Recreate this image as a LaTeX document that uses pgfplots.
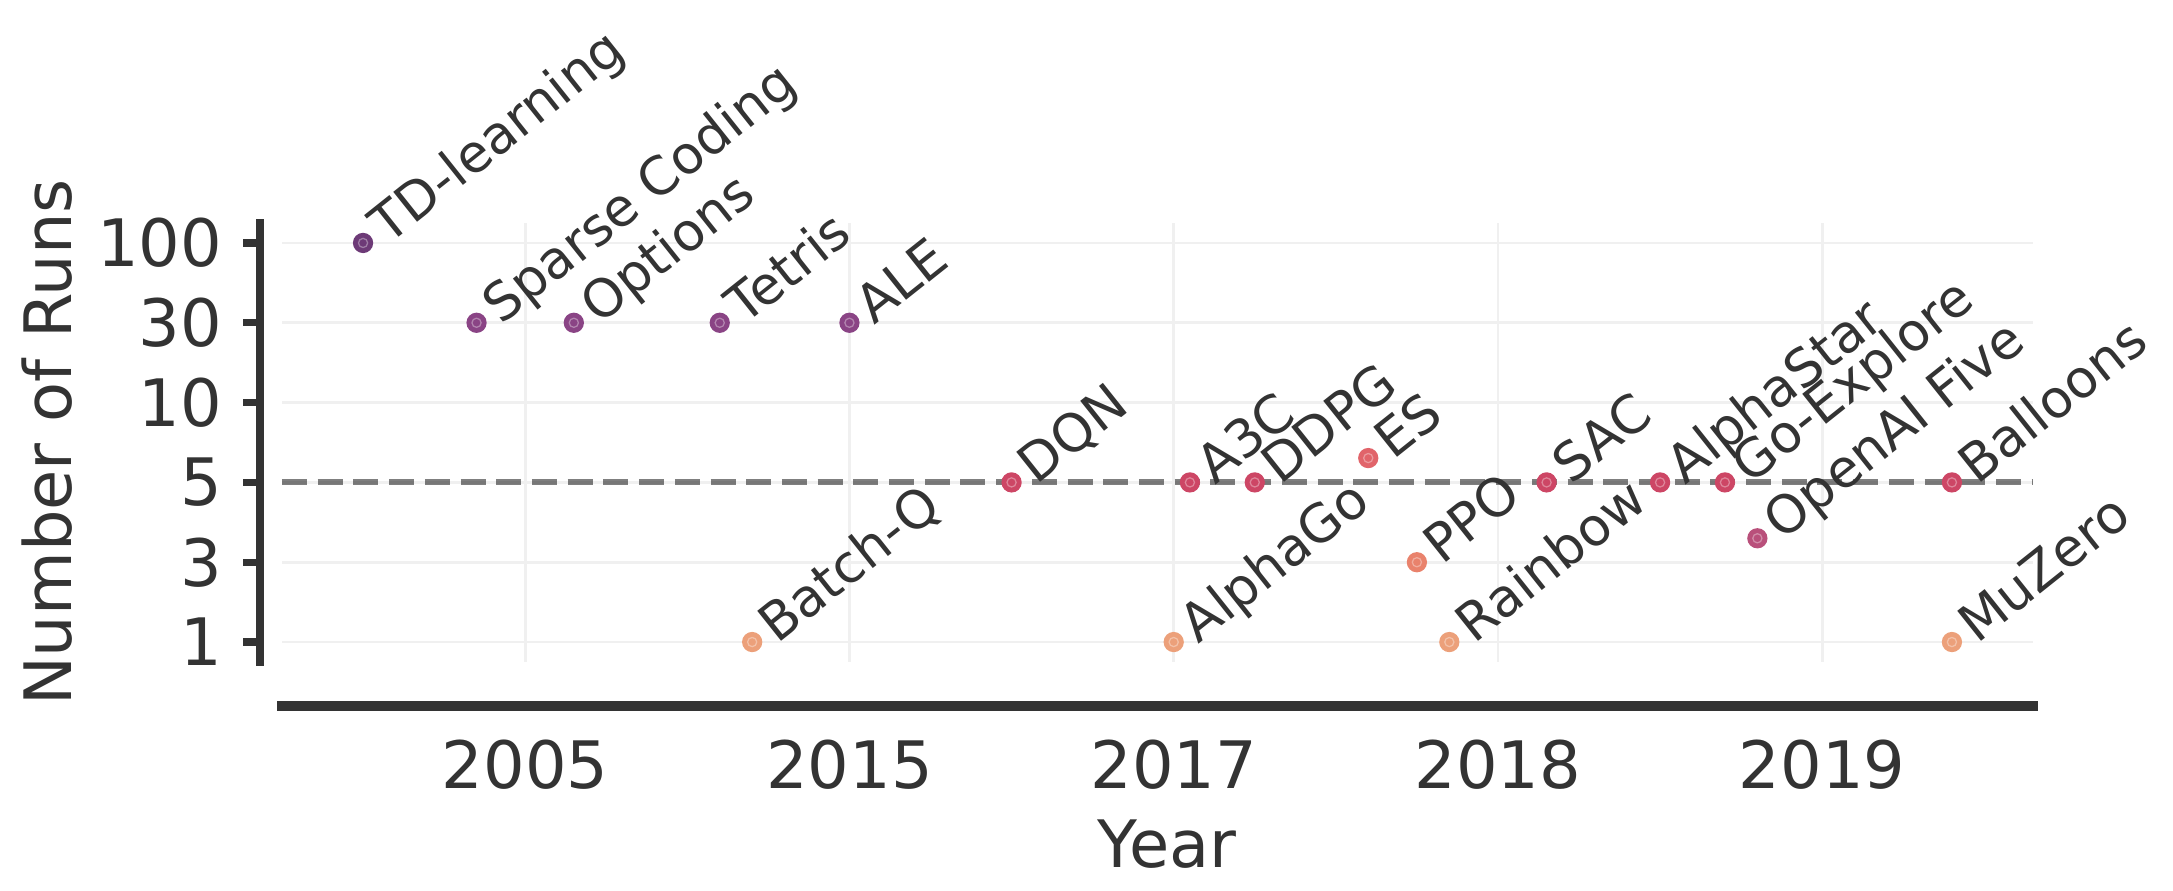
\documentclass[border=0pt]{standalone}
\usepackage{fontspec}
\setmainfont{DejaVu Sans}
\usepackage{pgfplots}
\pgfplotsset{compat=1.18}
\usepackage{pgfplotstable}

\definecolor{ink}{HTML}{333333}
\definecolor{gridc}{HTML}{F0F0F0}
\definecolor{cA}{HTML}{6D3A77}
\definecolor{cB}{HTML}{8A4485}
\definecolor{cC}{HTML}{CD4665}
\definecolor{cD}{HTML}{E1646A}
\definecolor{cE}{HTML}{E9826C}
\definecolor{cF}{HTML}{ECA07A}
\definecolor{cG}{HTML}{B9507B}

\newcommand\tickfont{\fontsize{15.7}{18}\selectfont}
\newcommand\annfont{\fontsize{12.6}{14}\selectfont}

% x: 2005=0, 2015=1, 2017=2, 2018=3, 2019=4
% y: 1=0, 3=1, 5=2, 10=3, 30=4, 100=5
% ci: colour index 0..6 (cA..cG)
\pgfplotstableread{
x      y      ci  label
-0.50  5      0   TD-learning
-0.15  4      1   {Sparse Coding}
 0.15  4      1   Options
 0.60  4      1   Tetris
 0.70  0      5   Batch-Q
 1.00  4      1   ALE
 1.50  2      2   DQN
 2.00  0      5   AlphaGo
 2.05  2      2   A3C
 2.25  2      2   DDPG
 2.60  2.305  3   ES
 2.75  1      4   PPO
 2.85  0      5   Rainbow
 3.15  2      2   SAC
 3.50  2      2   AlphaStar
 3.70  2      2   Go-Explore
 3.80  1.30   6   {OpenAI Five}
 4.40  2      2   Balloons
 4.40  0      5   MuZero
}\runs

\begin{document}
\begin{tikzpicture}
\path[use as bounding box] (-67.68pt,-54.96pt) rectangle (453.84pt,158.88pt);
\begin{axis}[
    scale only axis,
    width=420.24pt, height=105.36pt,
    xmin=-0.75, xmax=4.65,
    ymin=-0.25, ymax=5.25,
    clip=false,
    axis line style={draw=none},
    tick style={draw=none},
    major tick length=0pt,
    xtick={0,1,2,3,4},
    xticklabels={2005,2015,2017,2018,2019},
    ytick={0,1,2,3,4,5},
    yticklabels={1,3,5,10,30,100},
    grid=major,
    major grid style={gridc, line width=0.65pt},
    xticklabel style={font=\tickfont, text=ink, inner sep=0pt, anchor=north, yshift=-18.55pt},
    yticklabel style={font=\tickfont, text=ink, inner sep=0pt, anchor=east, xshift=-14.2pt},
    xlabel=Year,
    ylabel=Number of Runs,
    xlabel style={font=\tickfont, text=ink, inner sep=0pt,
        at={([yshift=-37.68pt]rel axis cs:0.5054,0)}, anchor=north},
    ylabel style={font=\tickfont, text=ink, inner sep=0pt,
        at={([xshift=-50.1pt]rel axis cs:0,0.5)}, anchor=south},
]
% points, coloured by colour index
\addplot[scatter, only marks, mark=*, mark size=2.23pt,
    point meta=\thisrow{ci},
    visualization depends on={\thisrow{ci}\as\ci},
    scatter/@pre marker code/.code={%
        \pgfmathtruncatemacro\k{\ci}%
        \edef\cname{c\ifcase\k A\or B\or C\or D\or E\or F\else G\fi}%
        \scope[fill=\cname, draw=\cname]},
    scatter/@post marker code/.code={\endscope},
] table[x=x, y=y]{\runs};
% faint inner ring of each marker
\addplot[only marks, mark=o, mark size=1.1pt,
    mark options={draw=white, line width=0.3pt, draw opacity=0.35}]
    table[x=x, y=y]{\runs};
% labels
\addplot[draw=none, mark=none,
    point meta=explicit symbolic,
    nodes near coords,
    nodes near coords style={font=\annfont, text=ink, inner sep=0pt,
        xshift=5.9pt, yshift=-0.8pt, rotate=38.5, anchor=base west},
] table[x=x, y=y, meta=label]{\runs};
% 5-run reference line
\addplot[black, opacity=0.5, line width=1.44pt, dash pattern=on 6pt off 2.57pt]
    coordinates {(-0.75,2) (4.65,2)};
% offset spines
\draw[ink, line width=2.1pt, line cap=rect]
    ([xshift=-5.28pt]rel axis cs:0,0) -- ([xshift=-5.28pt]rel axis cs:0,1);
\draw[ink, line width=2.25pt, line cap=rect]
    ([yshift=-10.56pt]rel axis cs:0,0) -- ([yshift=-10.56pt]rel axis cs:1,0);
\draw[ink, line width=1.75pt] ([xshift=-5.28pt]axis cs:-0.75,0) -- ++(-4.15pt,0pt);
\draw[ink, line width=1.75pt] ([xshift=-5.28pt]axis cs:-0.75,1) -- ++(-4.15pt,0pt);
\draw[ink, line width=1.75pt] ([xshift=-5.28pt]axis cs:-0.75,2) -- ++(-4.15pt,0pt);
\draw[ink, line width=1.75pt] ([xshift=-5.28pt]axis cs:-0.75,3) -- ++(-4.15pt,0pt);
\draw[ink, line width=1.75pt] ([xshift=-5.28pt]axis cs:-0.75,4) -- ++(-4.15pt,0pt);
\draw[ink, line width=1.75pt] ([xshift=-5.28pt]axis cs:-0.75,5) -- ++(-4.15pt,0pt);
\end{axis}
\end{tikzpicture}
\end{document}
